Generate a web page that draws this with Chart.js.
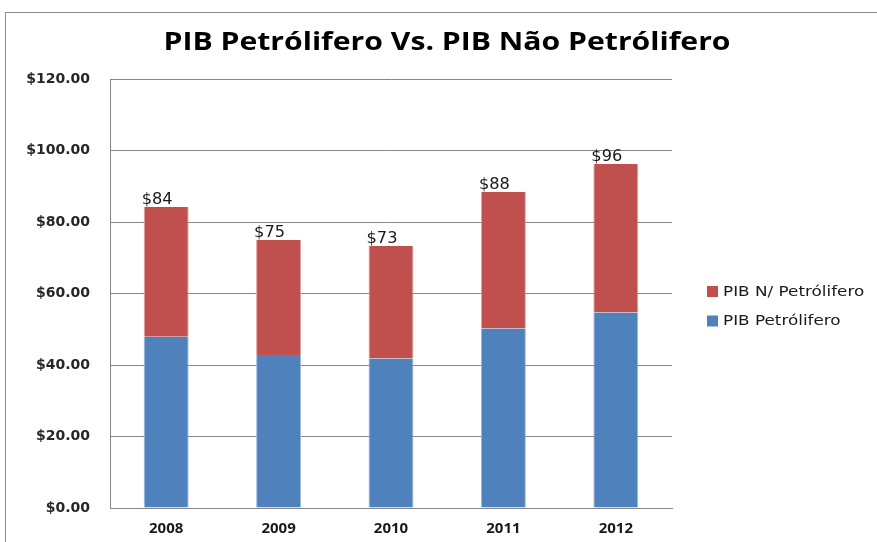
<!DOCTYPE html>
<html>
<head>
<meta charset="utf-8">
<script src="https://cdn.jsdelivr.net/npm/chart.js@4/dist/chart.umd.min.js"></script>
<style>
  html, body { margin: 0; padding: 0; background: #fff; overflow: hidden; }
  #frame { position: absolute; left: 5px; top: 12px; width: 900px; height: 560px; border: 1px solid #8c8c8c; }
  #wrap { position: absolute; left: 0; top: 0; width: 877px; height: 542px; }
</style>
</head>
<body>
<div id="frame"></div>
<div id="wrap"><canvas id="pibChart" width="877" height="542"></canvas></div>
<script>
const years = ['2008', '2009', '2010', '2011', '2012'];
const pibPetrolifero = [47.9, 42.8, 41.8, 50.2, 54.7];
const pibNaoPetrolifero = [36.3, 32.2, 31.5, 38.2, 41.5];
const yTicks = [0, 20, 40, 60, 80, 100, 120];
const chartTitle = 'PIB Petrólifero Vs. PIB Não Petrólifero';

// text drawn a bit wider than the font, like the stretched original
function stretchedText(c, text, x, y, sx) {
    c.save();
    c.translate(x, y);
    c.scale(sx, 1);
    c.fillText(text, 0, 0);
    c.restore();
}

document.addEventListener('DOMContentLoaded', function() {
    const ctx = document.getElementById('pibChart');

    const titleDraw = {
        id: 'titleDraw',
        afterDraw(chart) {
            const c = chart.ctx;
            c.save();
            c.font = 'bold 25px "Open Sans", sans-serif';
            c.fillStyle = '#000';
            c.textAlign = 'center';
            c.textBaseline = 'middle';
            const w = c.measureText(chartTitle).width;
            stretchedText(c, chartTitle, 447, 43, 567 / w);
            c.restore();
        }
    };

    // total on top of each stacked bar
    const totalLabels = {
        id: 'totalLabels',
        afterDatasetsDraw(chart) {
            const c = chart.ctx;
            const topMeta = chart.getDatasetMeta(1);
            c.save();
            c.font = '15px "DejaVu Sans", sans-serif';
            c.fillStyle = '#1a1a1a';
            c.textAlign = 'left';
            c.textBaseline = 'alphabetic';
            topMeta.data.forEach((bar, i) => {
                const total = pibPetrolifero[i] + pibNaoPetrolifero[i];
                stretchedText(c, '$' + Math.round(total), bar.x - bar.width / 2 - 2, bar.y - 3, 1.08);
            });
            c.restore();
        }
    };

    // legend on the right, red entry first
    const sideLegend = {
        id: 'sideLegend',
        afterDraw(chart) {
            const c = chart.ctx;
            const sets = chart.data.datasets.slice().reverse();
            c.save();
            c.font = '14px "DejaVu Sans", sans-serif';
            c.textBaseline = 'middle';
            c.textAlign = 'left';
            sets.forEach((ds, i) => {
                const y = 291 + i * 29.5;
                c.fillStyle = ds.backgroundColor;
                c.fillRect(707, y - 5, 11, 11);
                c.fillStyle = '#1a1a1a';
                stretchedText(c, ds.label, 723, y + 1, 1.2);
            });
            c.restore();
        }
    };

    new Chart(ctx, {
        type: 'bar',
        data: {
            labels: years,
            datasets: [
                {
                    label: 'PIB Petrólifero',
                    data: pibPetrolifero,
                    backgroundColor: '#4F81BD',
                    borderColor: '#9db8dc',
                    borderWidth: { left: 1, right: 1, top: 0, bottom: 0 }
                },
                {
                    label: 'PIB N/ Petrólifero',
                    data: pibNaoPetrolifero,
                    backgroundColor: '#C0504D',
                    borderColor: '#e0a3a1',
                    borderWidth: { left: 1, right: 1, top: 0, bottom: 0 }
                }
            ]
        },
        options: {
            responsive: false,
            animation: false,
            layout: { padding: { left: 0, right: 205, top: 79, bottom: 0 } },
            datasets: {
                bar: { categoryPercentage: 0.8, barPercentage: 0.5 }
            },
            scales: {
                x: {
                    stacked: true,
                    grid: { display: false, drawTicks: false },
                    border: { color: '#868686', width: 1 },
                    ticks: {
                        color: '#1a1a1a',
                        padding: 12,
                        font: { family: '"Open Sans", sans-serif', size: 15, weight: 'bold' }
                    },
                    afterFit: s => { s.height = 34; }
                },
                y: {
                    stacked: true,
                    min: 0,
                    max: 120,
                    afterBuildTicks: s => { s.ticks = yTicks.map(v => ({ value: v })); },
                    grid: { color: '#868686', drawTicks: false },
                    border: { color: '#868686', width: 1 },
                    ticks: {
                        color: '#262626',
                        padding: 20,
                        font: { family: '"DejaVu Sans", sans-serif', size: 14, weight: 'bold' },
                        callback: v => '$' + v.toFixed(2)
                    },
                    afterFit: s => { s.width = 110; }
                }
            },
            plugins: {
                legend: { display: false },
                tooltip: { enabled: false },
                title: { display: false }
            }
        },
        plugins: [titleDraw, totalLabels, sideLegend]
    });
});
</script>
</body>
</html>
